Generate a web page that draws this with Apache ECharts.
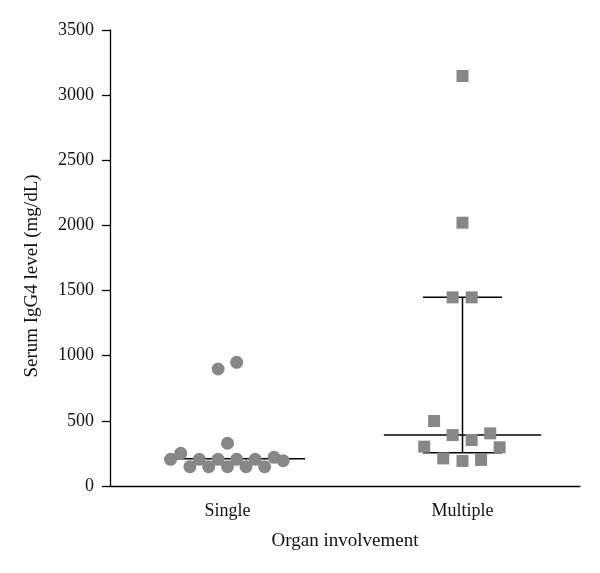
<!DOCTYPE html>
<html>
<head>
<meta charset="utf-8">
<script src="https://cdn.jsdelivr.net/npm/echarts@6/dist/echarts.min.js"></script>
<style>html,body{margin:0;padding:0;background:#fff}#c{width:600px;height:573px}</style>
</head>
<body>
<div id="c"></div>
<script>
// ---- data ----
const categories = ['Single', 'Multiple'];
const yTicks = [0, 500, 1000, 1500, 2000, 2500, 3000, 3500];
// serum IgG4 values (mg/dL)
const singleValues = [205, 251, 148, 205, 148, 205, 328, 148, 205, 148, 205, 148, 220, 194, 898, 949];
const singleJitter = [-0.242, -0.199, -0.160, -0.120, -0.080, -0.040, 0, 0, 0.039, 0.079, 0.118, 0.158, 0.198, 0.237, -0.040, 0.039];
const multipleValues = [1448, 1448, 499, 391, 353, 404, 302, 297, 212, 192, 200, 3147, 2021];
const multipleJitter = [-0.042, 0.039, -0.121, -0.042, 0.039, 0.118, -0.163, 0.158, -0.082, 0, 0.079, 0, 0];
// median and interquartile summary
const medians = [209, 391];
const upperQ = [209, 1448];
const lowerQ = [209, 256];

// ---- build ----
const FONT = '"Liberation Serif", "Times New Roman", serif';
const medianHalfM = 0.335, whiskerHalf = 0.168;

const singlePts = singleValues.map((v, i) => [0.5 + singleJitter[i], v]);
const multiPts = multipleValues.map((v, i) => [1.5 + multipleJitter[i], v]);

const lineSeries = [];
function seg(data) {
  lineSeries.push({
    type: 'line', xAxisIndex: 1, data: data, symbol: 'none', silent: true,
    lineStyle: {color: '#000', width: 1.5}, z: 1, animation: false
  });
}
// single median
seg([[0.5 - 0.27, medians[0]], [0.5 + 0.33, medians[0]]]);
// multiple median
seg([[1.5 - medianHalfM, medians[1]], [1.5 + medianHalfM, medians[1]]]);
// multiple whiskers
seg([[1.5 - whiskerHalf, upperQ[1]], [1.5 + whiskerHalf, upperQ[1]]]);
seg([[1.5 - whiskerHalf, lowerQ[1]], [1.5 + whiskerHalf, lowerQ[1]]]);
seg([[1.5, lowerQ[1]], [1.5, upperQ[1]]]);

const chart = echarts.init(document.getElementById('c'), null, {renderer: 'canvas'});
chart.setOption({
  animation: false,
  backgroundColor: '#fff',
  grid: {left: 110, right: 20, top: 30, bottom: 87, containLabel: false},
  xAxis: [{
    type: 'category', data: categories, boundaryGap: true,
    name: 'Organ involvement', nameLocation: 'middle', nameGap: 46,
    nameTextStyle: {fontFamily: FONT, fontSize: 19, color: '#111'},
    axisLine: {lineStyle: {color: '#000', width: 1.3}},
    axisTick: {alignWithLabel: true, length: 8, lineStyle: {color: '#000', width: 1.3}},
    axisLabel: {fontFamily: FONT, fontSize: 18, color: '#111', margin: 16},
    splitLine: {show: false}
  }, {
    type: 'value', min: 0, max: 2, show: false
  }],
  yAxis: {
    type: 'value', min: yTicks[0], max: yTicks[yTicks.length - 1], interval: yTicks[1] - yTicks[0],
    name: 'Serum IgG4 level (mg/dL)', nameLocation: 'middle', nameGap: 68,
    nameTextStyle: {fontFamily: FONT, fontSize: 19, color: '#111', padding: [0, 36, 0, 0]},
    axisLine: {show: true, lineStyle: {color: '#000', width: 1.3}},
    axisTick: {show: true, length: 8, lineStyle: {color: '#000', width: 1.3}},
    axisLabel: {fontFamily: FONT, fontSize: 18, color: '#111', margin: 16,
                formatter: v => String(v)},
    splitLine: {show: false}
  },
  series: [
    {type: 'scatter', xAxisIndex: 1, data: singlePts, symbol: 'circle', symbolSize: 13,
     itemStyle: {color: '#878787', opacity: 1}, z: 2},
    {type: 'scatter', xAxisIndex: 1, data: multiPts, symbol: 'rect', symbolSize: 12,
     itemStyle: {color: '#878787', opacity: 1}, z: 2}
  ].concat(lineSeries)
});
</script>
</body>
</html>
